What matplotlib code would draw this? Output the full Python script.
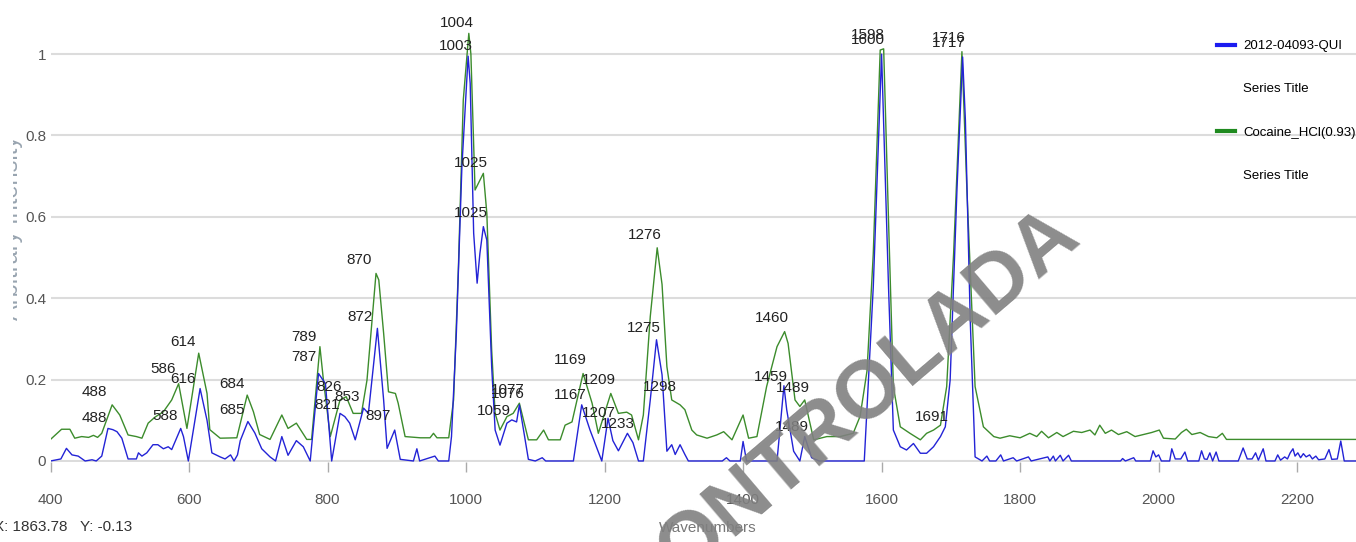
import matplotlib
matplotlib.use('Agg')
import matplotlib.pyplot as plt
from matplotlib.lines import Line2D
from matplotlib.transforms import Bbox

plt.rcParams['font.family'] = ['Liberation Sans', 'DejaVu Sans']

# sample spectrum (blue) - wavenumber / intensity
blue_x = [400, 415, 423, 431, 440, 450, 460, 466, 474, 483, 490, 496, 503, 512, 524, 527, 532, 539,
          548, 555, 563, 570, 575, 588, 592, 599, 616, 626, 633, 645, 652, 660, 665, 670, 674, 685,
          695, 705, 717, 725, 734, 743, 755, 765, 775, 787, 797, 806, 818, 825, 832, 840, 852, 859,
          872, 881, 886, 897, 905, 924, 929, 933, 955, 960, 975, 979, 986, 994, 1003, 1006, 1011,
          1016, 1020, 1025, 1030, 1037, 1042, 1049, 1059, 1066, 1073, 1077, 1090, 1100, 1110, 1115,
          1155, 1167, 1179, 1189, 1196, 1205, 1212, 1220, 1233, 1241, 1249, 1256, 1266, 1275, 1283,
          1290, 1297, 1302, 1309, 1316, 1321, 1370, 1376, 1381, 1396, 1400, 1405, 1449, 1459, 1463,
          1473, 1482, 1489, 1499, 1510, 1575, 1588, 1600, 1610, 1617, 1627, 1636, 1646, 1656, 1665,
          1675, 1685, 1692, 1699, 1709, 1717, 1721, 1728, 1735, 1745, 1752, 1756, 1765, 1772, 1776,
          1790, 1795, 1812, 1816, 1840, 1843, 1848, 1851, 1858, 1862, 1870, 1874, 1945, 1948, 1952,
          1964, 1967, 1988, 1992, 1996, 2000, 2004, 2016, 2019, 2024, 2032, 2038, 2042, 2058, 2062,
          2066, 2070, 2074, 2078, 2083, 2087, 2115, 2122, 2128, 2135, 2140, 2144, 2151, 2155, 2168,
          2172, 2176, 2182, 2186, 2190, 2194, 2197, 2201, 2205, 2209, 2213, 2218, 2222, 2227, 2231,
          2240, 2246, 2250, 2258, 2263, 2268, 2285]
blue_y = [0, 0.005, 0.031, 0.015, 0.012, 0.0, 0.003, 0.0, 0.012, 0.08, 0.077, 0.072, 0.056, 0.005,
          0.005, 0.02, 0.012, 0.02, 0.04, 0.04, 0.03, 0.035, 0.028, 0.08, 0.06, 0.0, 0.178, 0.1,
          0.02, 0.01, 0.005, 0.015, 0.0, 0.015, 0.05, 0.097, 0.069, 0.03, 0.01, 0.0, 0.06, 0.014,
          0.05, 0.035, 0.0, 0.215, 0.19, 0.0, 0.117, 0.109, 0.093, 0.052, 0.13, 0.117, 0.326, 0.15,
          0.031, 0.076, 0.004, 0.0, 0.03, 0.0, 0.012, 0.0, 0.0, 0.06, 0.314, 0.723, 0.995, 0.928,
          0.56, 0.437, 0.51, 0.576, 0.543, 0.232, 0.076, 0.039, 0.093, 0.101, 0.096, 0.138, 0.004,
          0.0, 0.008, 0.0, 0.0, 0.138, 0.076, 0.031, 0.0, 0.105, 0.05, 0.025, 0.068, 0.045, 0.0, 0.0,
          0.15, 0.298, 0.212, 0.024, 0.04, 0.016, 0.04, 0.016, 0.0, 0.0, 0.008, 0.0, 0.0, 0.048, 0.0,
          0.0, 0.185, 0.126, 0.024, 0.0, 0.06, 0.008, 0.0, 0.0, 0.428, 1.0, 0.428, 0.076, 0.035,
          0.027, 0.043, 0.019, 0.019, 0.035, 0.06, 0.084, 0.199, 0.674, 0.993, 0.838, 0.346, 0.01,
          0.0, 0.012, 0.0, 0.0, 0.015, 0.0, 0.008, 0.0, 0.01, 0.0, 0.01, 0.0, 0.012, 0.0, 0.014, 0.0,
          0.014, 0.0, 0.0, 0.006, 0.0, 0.008, 0.0, 0.0, 0.025, 0.01, 0.015, 0.0, 0.0, 0.03, 0.005,
          0.005, 0.022, 0.0, 0.0, 0.025, 0.005, 0.004, 0.02, 0.0, 0.022, 0.0, 0.0, 0.032, 0.005,
          0.005, 0.02, 0.002, 0.03, 0.0, 0.0, 0.015, 0.002, 0.01, 0.005, 0.02, 0.03, 0.012, 0.02,
          0.008, 0.018, 0.01, 0.015, 0.005, 0.012, 0.003, 0.005, 0.028, 0.004, 0.005, 0.049, 0.0, 0.0]

# library reference spectrum (green)
green_x = [400, 416, 428, 435, 445, 455, 462, 468, 474, 489, 500, 512, 524, 532, 541, 551, 563, 575,
           585, 597, 614, 626, 630, 645, 669, 684, 693, 702, 717, 734, 743, 755, 770, 777, 789, 794,
           804, 818, 827, 837, 849, 857, 870, 874, 881, 888, 898, 902, 912, 934, 948, 953, 958, 975,
           982, 989, 996, 1004, 1007, 1013, 1025, 1030, 1037, 1042, 1049, 1059, 1068, 1077, 1090,
           1102, 1112, 1119, 1136, 1143, 1153, 1169, 1182, 1191, 1209, 1220, 1232, 1239, 1249, 1256,
           1266, 1276, 1283, 1290, 1297, 1309, 1316, 1326, 1333, 1348, 1362, 1372, 1384, 1400, 1408,
           1420, 1434, 1449, 1460, 1465, 1475, 1482, 1489, 1502, 1521, 1540, 1559, 1569, 1579, 1588,
           1598, 1603, 1610, 1617, 1627, 1641, 1656, 1665, 1675, 1685, 1694, 1704, 1716, 1723, 1735,
           1747, 1762, 1771, 1785, 1800, 1814, 1824, 1831, 1841, 1853, 1862, 1877, 1889, 1901, 1908,
           1915, 1923, 1932, 1942, 1954, 1966, 1978, 1990, 2001, 2007, 2024, 2033, 2040, 2048, 2060,
           2072, 2084, 2092, 2098, 2285]
green_y = [0.053, 0.078, 0.078, 0.056, 0.06, 0.058, 0.063, 0.058, 0.068, 0.138, 0.113, 0.064, 0.06,
           0.056, 0.093, 0.108, 0.121, 0.15, 0.19, 0.08, 0.265, 0.166, 0.077, 0.056, 0.057, 0.162,
           0.121, 0.065, 0.053, 0.113, 0.08, 0.093, 0.053, 0.053, 0.281, 0.2, 0.06, 0.15, 0.158,
           0.117, 0.117, 0.199, 0.461, 0.445, 0.314, 0.17, 0.166, 0.142, 0.06, 0.057, 0.057, 0.068,
           0.057, 0.057, 0.15, 0.477, 0.887, 1.051, 1.0, 0.666, 0.707, 0.609, 0.273, 0.117, 0.076,
           0.109, 0.117, 0.142, 0.052, 0.052, 0.076, 0.052, 0.052, 0.088, 0.096, 0.215, 0.142, 0.068,
           0.166, 0.117, 0.12, 0.113, 0.052, 0.113, 0.355, 0.524, 0.434, 0.232, 0.15, 0.138, 0.126,
           0.076, 0.064, 0.056, 0.064, 0.072, 0.052, 0.113, 0.056, 0.06, 0.183, 0.281, 0.318, 0.289,
           0.15, 0.134, 0.15, 0.052, 0.06, 0.06, 0.068, 0.11, 0.222, 0.51, 1.01, 1.013, 0.592, 0.183,
           0.084, 0.068, 0.052, 0.068, 0.076, 0.088, 0.183, 0.51, 1.006, 0.674, 0.183, 0.084, 0.06,
           0.056, 0.062, 0.057, 0.068, 0.06, 0.073, 0.057, 0.07, 0.06, 0.073, 0.07, 0.076, 0.064,
           0.088, 0.068, 0.076, 0.065, 0.072, 0.06, 0.065, 0.07, 0.076, 0.056, 0.054, 0.07, 0.078,
           0.065, 0.07, 0.06, 0.057, 0.068, 0.053, 0.053]

# peak labels: text, x, y (label centres)
green_labels = [('488', 464, 0.170), ('586', 562, 0.226), ('614', 591, 0.292), ('684', 662, 0.189),
                ('789', 766, 0.305), ('826', 802, 0.182), ('853', 828, 0.157), ('870', 846, 0.494),
                ('1004', 987, 1.077), ('1025', 1007, 0.732), ('1077', 1060, 0.174),
                ('1169', 1150, 0.248), ('1209', 1192, 0.199), ('1276', 1258, 0.555),
                ('1298', 1280, 0.182), ('1460', 1442, 0.351), ('1489', 1472, 0.179),
                ('1598', 1580, 1.046), ('1716', 1697, 1.040)]
blue_labels = [('488', 464, 0.106), ('588', 565, 0.111), ('616', 591, 0.201), ('685', 662, 0.125),
               ('787', 766, 0.256), ('821', 799, 0.138), ('872', 847, 0.354), ('897', 873, 0.111),
               ('1003', 985, 1.020), ('1025', 1007, 0.609), ('1059', 1040, 0.123),
               ('1076', 1060, 0.164), ('1167', 1150, 0.162), ('1207', 1191, 0.118),
               ('1233', 1219, 0.091), ('1275', 1257, 0.327), ('1459', 1440, 0.206),
               ('1489', 1471, 0.084), ('1600', 1580, 1.034), ('1691', 1672, 0.108),
               ('1717', 1697, 1.028)]

blue_col = '#2323d6'
green_col = '#3c8c2c'

fig = plt.figure(figsize=(13.56, 5.42), dpi=100)
ax = fig.add_axes([50.5 / 1356, 1 - 462 / 542, (1356 - 50.5) / 1356, 462 / 542])

ax.plot(green_x, green_y, color=green_col, lw=1.0, zorder=3)
ax.plot(blue_x, blue_y, color=blue_col, lw=1.0, zorder=4)

for txt, x, y in green_labels + blue_labels:
    ax.text(x, y, txt, ha='center', va='center', fontsize=11, color='#222222', zorder=5)

ax.set_xlim(400, 2285)
ax.set_ylim(-0.0025, 1.133)
ax.set_xticks([400, 600, 800, 1000, 1200, 1400, 1600, 1800, 2000, 2200])
ax.set_yticks([0, 0.2, 0.4, 0.6, 0.8, 1.0])
ax.set_yticklabels(['0', '0.2', '0.4', '0.6', '0.8', '1'])
ax.yaxis.grid(True, color='#dcdcdc', lw=1.5, zorder=0)
ax.set_axisbelow(True)
for s in ax.spines.values():
    s.set_visible(False)
ax.tick_params(axis='y', length=0, pad=3, labelsize=11, labelcolor='#555555')
ax.tick_params(axis='x', length=7, width=1, color='#aaaaaa', pad=15, labelsize=11,
               labelcolor='#555555')

# axis titles and cursor readout (y title is half hidden in the original)
ylab = fig.text(12 / 1356, 1 - 228 / 542, 'Arbitrary Intensity', rotation=90, ha='center',
                va='center', fontsize=17, color='#98a4b0')
ylab.set_clip_box(Bbox([[13, 0], [60, 542]]))
ylab.set_clip_on(True)
fig.text(708 / 1356, 1 - 528 / 542, 'Wavenumbers', ha='center', va='center', fontsize=11,
         color='#777777')
fig.text(-6 / 1356, 1 - 527 / 542, 'X: 1863.78   Y: -0.13', ha='left', va='center', fontsize=11,
         color='#333333')

# legend
handles = [Line2D([], [], color='#1c1cf0', lw=3),
           Line2D([], [], color='none'),
           Line2D([], [], color='#1f8a1f', lw=3),
           Line2D([], [], color='none')]
labels = ['2012-04093-QUI', 'Series Title', 'Cocaine_HCl(0.93)', 'Series Title']
fig.legend(handles, labels, loc='upper left', bbox_to_anchor=(1217 / 1356, 1 - 40 / 542),
           frameon=False, fontsize=9.5, handlelength=1.4, handletextpad=0.6, labelspacing=2.35,
           borderaxespad=0, borderpad=0)

# watermark
fig.text(846 / 1356, 1 - 412 / 542, 'CONTROLADA', rotation=40.4, ha='center', va='center',
         fontsize=59, fontweight='bold', color='#808080', alpha=0.9, family='Liberation Sans',
         zorder=10)

fig.savefig('out.png', dpi=100)
